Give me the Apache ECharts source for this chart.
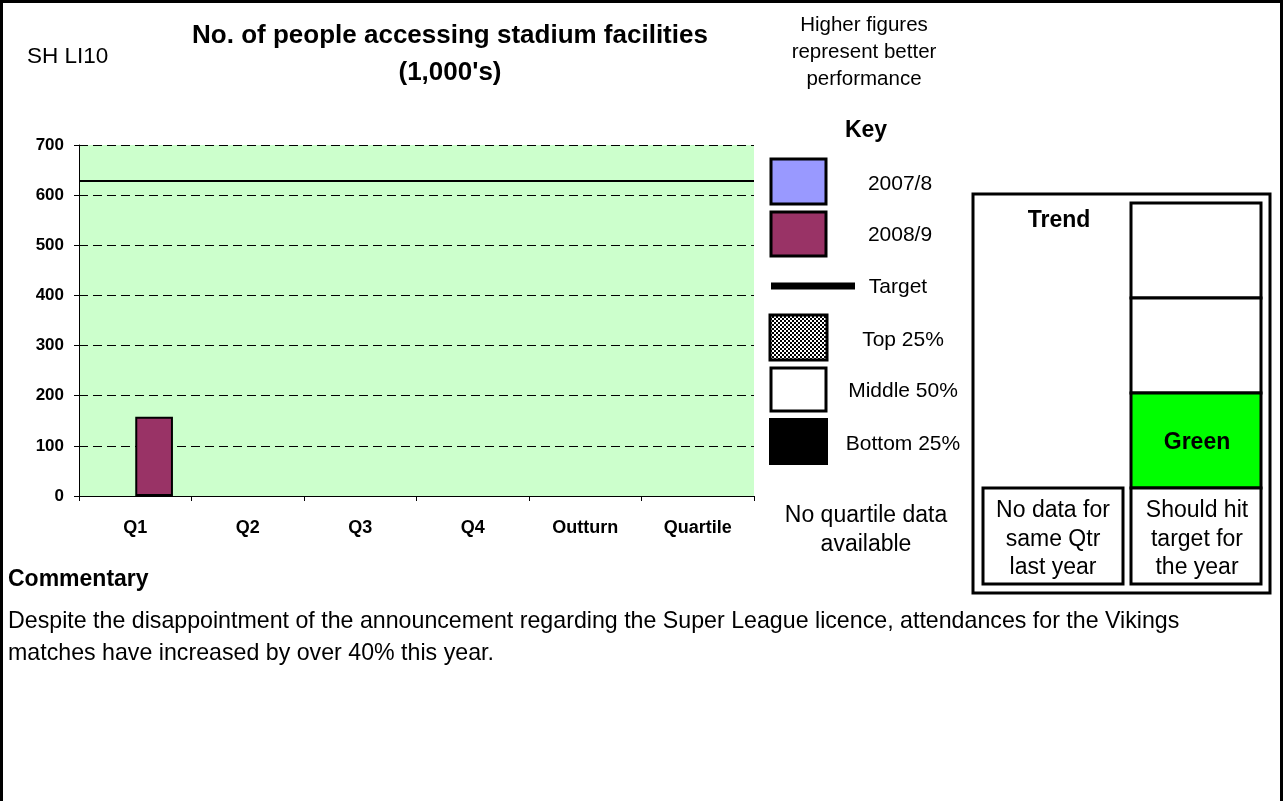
<!DOCTYPE html>
<html>
<head>
<meta charset="utf-8">
<script src="https://cdn.jsdelivr.net/npm/echarts@6/dist/echarts.min.js"></script>
<style>
  html, body { margin: 0; padding: 0; background: #fff; }
  #chart { width: 1283px; height: 801px; }
</style>
</head>
<body>
<div id="chart"></div>
<script>
// Quarterly attendance data (thousands)
const categories = ['Q1', 'Q2', 'Q3', 'Q4', 'Outturn', 'Quartile'];
const values2007 = [null, null, null, null, null, null];
const values2008 = [158, null, null, null, null, null];
const targetValue = 628;
const yTicks = [0, 100, 200, 300, 400, 500, 600, 700];

const FONT = '"Liberation Sans", Arial, Helvetica, sans-serif';

// small checkerboard used for the "Top 25%" key swatch
function checkerPattern() {
  const c = document.createElement('canvas');
  c.width = 4; c.height = 4;
  const ctx = c.getContext('2d');
  ctx.fillStyle = '#ffffff'; ctx.fillRect(0, 0, 4, 4);
  ctx.fillStyle = '#000000';
  ctx.fillRect(0, 0, 2, 2);
  ctx.fillRect(2, 2, 2, 2);
  return c;
}

const chart = echarts.init(document.getElementById('chart'), null, { renderer: 'canvas' });

function txt(x, y, text, opts) {
  return {
    type: 'text', x: x, y: y, silent: true,
    style: Object.assign({
      text: text, fontFamily: FONT, fontSize: 21, fill: '#000',
      align: 'left', verticalAlign: 'middle'
    }, opts || {})
  };
}
function box(x, y, w, h, fill, lw) {
  return {
    type: 'rect', silent: true,
    shape: { x: x, y: y, width: w, height: h },
    style: { fill: fill, stroke: '#000', lineWidth: lw == null ? 3 : lw }
  };
}

const graphics = [
  // page frame
  { type: 'rect', silent: true, shape: { x: 1.5, y: 1.5, width: 1280, height: 820 },
    style: { fill: 'none', stroke: '#000', lineWidth: 3 } },
  txt(27, 57, 'SH LI10', { fontSize: 22.5 }),
  txt(450, 36, 'No. of people accessing stadium facilities', { fontSize: 26, fontWeight: 'bold', align: 'center' }),
  txt(450, 73, "(1,000's)", { fontSize: 26, fontWeight: 'bold', align: 'center' }),
  txt(864, 25, 'Higher figures', { fontSize: 20.5, align: 'center' }),
  txt(864, 52, 'represent better', { fontSize: 20.5, align: 'center' }),
  txt(864, 79, 'performance', { fontSize: 20.5, align: 'center' }),
  txt(866, 131, 'Key', { fontSize: 23, fontWeight: 'bold', align: 'center' }),

  // key swatches
  box(771, 159, 55, 45, '#9999FF'),
  txt(900, 184, '2007/8', { align: 'center' }),
  box(771, 212, 55, 44, '#993366'),
  txt(900, 235, '2008/9', { align: 'center' }),
  { type: 'rect', silent: true, shape: { x: 771, y: 282.5, width: 84, height: 7 }, style: { fill: '#000' } },
  txt(898, 287, 'Target', { align: 'center' }),
  { type: 'rect', silent: true, shape: { x: 770, y: 315, width: 57, height: 45 },
    style: { fill: { image: checkerPattern(), repeat: 'repeat' }, stroke: '#000', lineWidth: 3 } },
  txt(903, 340, 'Top 25%', { align: 'center' }),
  box(771, 368, 55, 43, '#ffffff'),
  txt(903, 391, 'Middle 50%', { align: 'center' }),
  { type: 'rect', silent: true, shape: { x: 769, y: 418, width: 59, height: 47 }, style: { fill: '#000' } },
  txt(903, 444, 'Bottom 25%', { align: 'center' }),

  txt(866, 516, 'No quartile data', { align: 'center', fontSize: 23 }),
  txt(866, 545, 'available', { align: 'center', fontSize: 23 }),

  // trend panel
  box(973, 194, 297, 399, '#ffffff'),
  txt(1059, 221, 'Trend', { align: 'center', fontWeight: 'bold', fontSize: 23 }),
  box(983, 488, 140, 96, '#ffffff'),
  txt(1053, 511, 'No data for', { align: 'center', fontSize: 23 }),
  txt(1053, 540, 'same Qtr', { align: 'center', fontSize: 23 }),
  txt(1053, 568, 'last year', { align: 'center', fontSize: 23 }),
  box(1131, 203, 130, 95, '#ffffff'),
  box(1131, 298, 130, 95, '#ffffff'),
  box(1131, 393, 130, 95, '#00FF00'),
  txt(1197, 443, 'Green', { align: 'center', fontWeight: 'bold', fontSize: 23 }),
  box(1131, 488, 130, 96, '#ffffff'),
  txt(1197, 511, 'Should hit', { align: 'center', fontSize: 23 }),
  txt(1197, 540, 'target for', { align: 'center', fontSize: 23 }),
  txt(1197, 568, 'the year', { align: 'center', fontSize: 23 }),

  // commentary
  txt(8, 580, 'Commentary', { fontWeight: 'bold', fontSize: 23 }),
  txt(8, 622, 'Despite the disappointment of the announcement regarding the Super League licence, attendances for the Vikings', { fontSize: 23.2 }),
  txt(8, 654, 'matches have increased by over 40% this year.', { fontSize: 23.2 })
];

const option = {
  animation: false,
  backgroundColor: '#ffffff',
  textStyle: { fontFamily: FONT },
  grid: {
    left: 79, right: 529, top: 145, bottom: 305,
    show: true, backgroundColor: '#CCFFCC', borderWidth: 0
  },
  xAxis: {
    type: 'category',
    data: categories,
    axisLine: { lineStyle: { color: '#000', width: 1 } },
    axisTick: { show: true, length: 5, lineStyle: { color: '#000' } },
    axisLabel: { color: '#000', fontWeight: 'bold', fontSize: 18, margin: 23, fontFamily: FONT }
  },
  yAxis: {
    type: 'value',
    min: yTicks[0], max: yTicks[yTicks.length - 1], interval: 100,
    axisLine: { show: true, lineStyle: { color: '#000', width: 1 } },
    axisTick: { show: true, length: 5, lineStyle: { color: '#000' } },
    axisLabel: { color: '#000', fontWeight: 'bold', fontSize: 17, margin: 15, fontFamily: FONT },
    splitLine: { show: true, lineStyle: { color: '#000', type: [9, 5], width: 1 } }
  },
  series: [
    {
      name: '2007/8', type: 'bar', data: values2007,
      barGap: '0%', barCategoryGap: '33%',
      itemStyle: { color: '#9999FF', borderColor: '#000', borderWidth: 2 }
    },
    {
      name: '2008/9', type: 'bar', data: values2008,
      barGap: '0%', barCategoryGap: '33%',
      itemStyle: { color: '#993366', borderColor: '#000', borderWidth: 2 },
      markLine: {
        silent: true, symbol: 'none', label: { show: false },
        lineStyle: { color: '#000', width: 2, type: 'solid' },
        data: [{ yAxis: targetValue }]
      }
    }
  ],
  graphic: graphics
};

chart.setOption(option);
</script>
</body>
</html>
